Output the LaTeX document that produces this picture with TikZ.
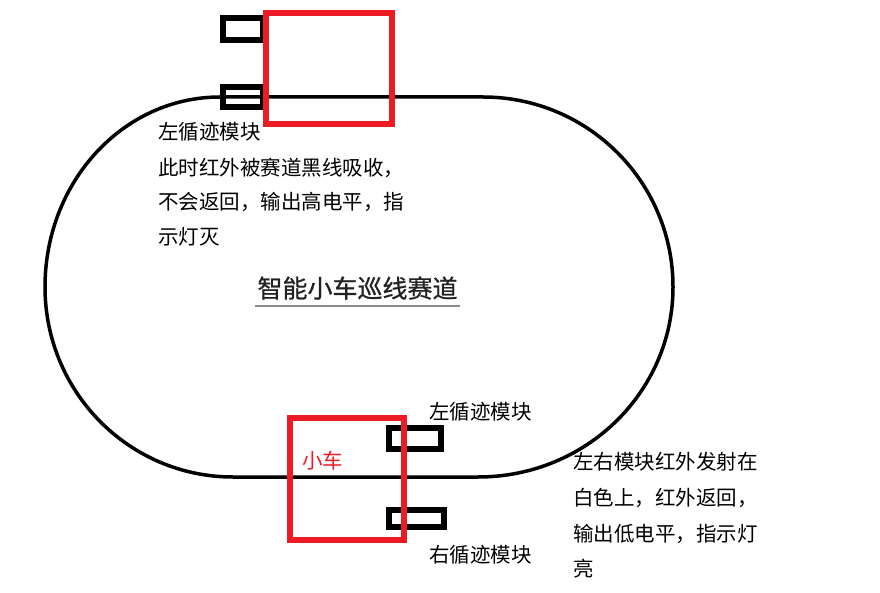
\documentclass[tikz,border=0pt]{standalone}
\usepackage{fontspec}
\newfontfamily\cjk{Noto Sans CJK SC}
\newfontfamily\cjkttl[FakeBold=0.8]{Noto Sans CJK SC}
\definecolor{carred}{HTML}{ED1C24}
\definecolor{ttlgray}{HTML}{222222}
\definecolor{ulgray}{HTML}{8A8A8A}
\begin{document}
\begin{tikzpicture}[x=1pt,y=-1pt,
  track/.style={line width=3.5pt,black},
  carbox/.style={draw=carred,line width=6pt},
  sensor/.style={draw=black,line width=6.5pt},
  txt/.style={anchor=west,inner sep=0pt,text height=16.4pt,text depth=1.5pt,font=\cjk\fontsize{20.5}{24}\selectfont},
  redtxt/.style={txt,text=carred},
  ttl/.style={anchor=center,inner sep=0pt,text height=20pt,text depth=1.7pt,font=\cjkttl\fontsize{25}{28}\selectfont,text=ttlgray}]
\useasboundingbox (0,0) rectangle (880,593);
% track
\draw[track] (220,97) -- (483,97)
  .. controls (588,97) and (673,182) .. (673,287)
  .. controls (673,392) and (586,477) .. (478,477)
  -- (233,477)
  .. controls (129,477) and (45,392) .. (45,287)
  .. controls (45,182) and (123,97) .. (220,97) -- cycle;
% top car
\draw[sensor] (223,18) rectangle (263,40);
\draw[sensor] (223,87) rectangle (263,107);
\draw[carbox] (266,13) rectangle (392,124);
% bottom car
\draw[sensor] (389,428) rectangle (441,449);
\draw[sensor] (389,510) rectangle (444,527);
\draw[carbox] (290,418) rectangle (404,540);
% title
\node[ttl] (title) at (357.5,288.5) {智能小车巡线赛道};
\draw[ulgray,line width=2pt] (255,306) -- (460,306);
% top-left text
\node[txt] (a1) at (158,132) {左循迹模块};
\node[txt] (a2) at (158,168) {此时红外被赛道黑线吸收，};
\node[txt] (a3) at (158,202) {不会返回，输出高电平，指};
\node[txt] (a4) at (158,237) {示灯灭};
% car label
\node[redtxt] (car) at (302,461) {小车};
% bottom sensor labels
\node[txt] (ls) at (429,412) {左循迹模块};
\node[txt] (rs) at (429,555) {右循迹模块};
% right text
\node[txt] (b1) at (573,462) {左右模块红外发射在};
\node[txt] (b2) at (573,498) {白色上，红外返回，};
\node[txt] (b3) at (573,534) {输出低电平，指示灯};
\node[txt] (b4) at (573,569) {亮};
\end{tikzpicture}
\end{document}
